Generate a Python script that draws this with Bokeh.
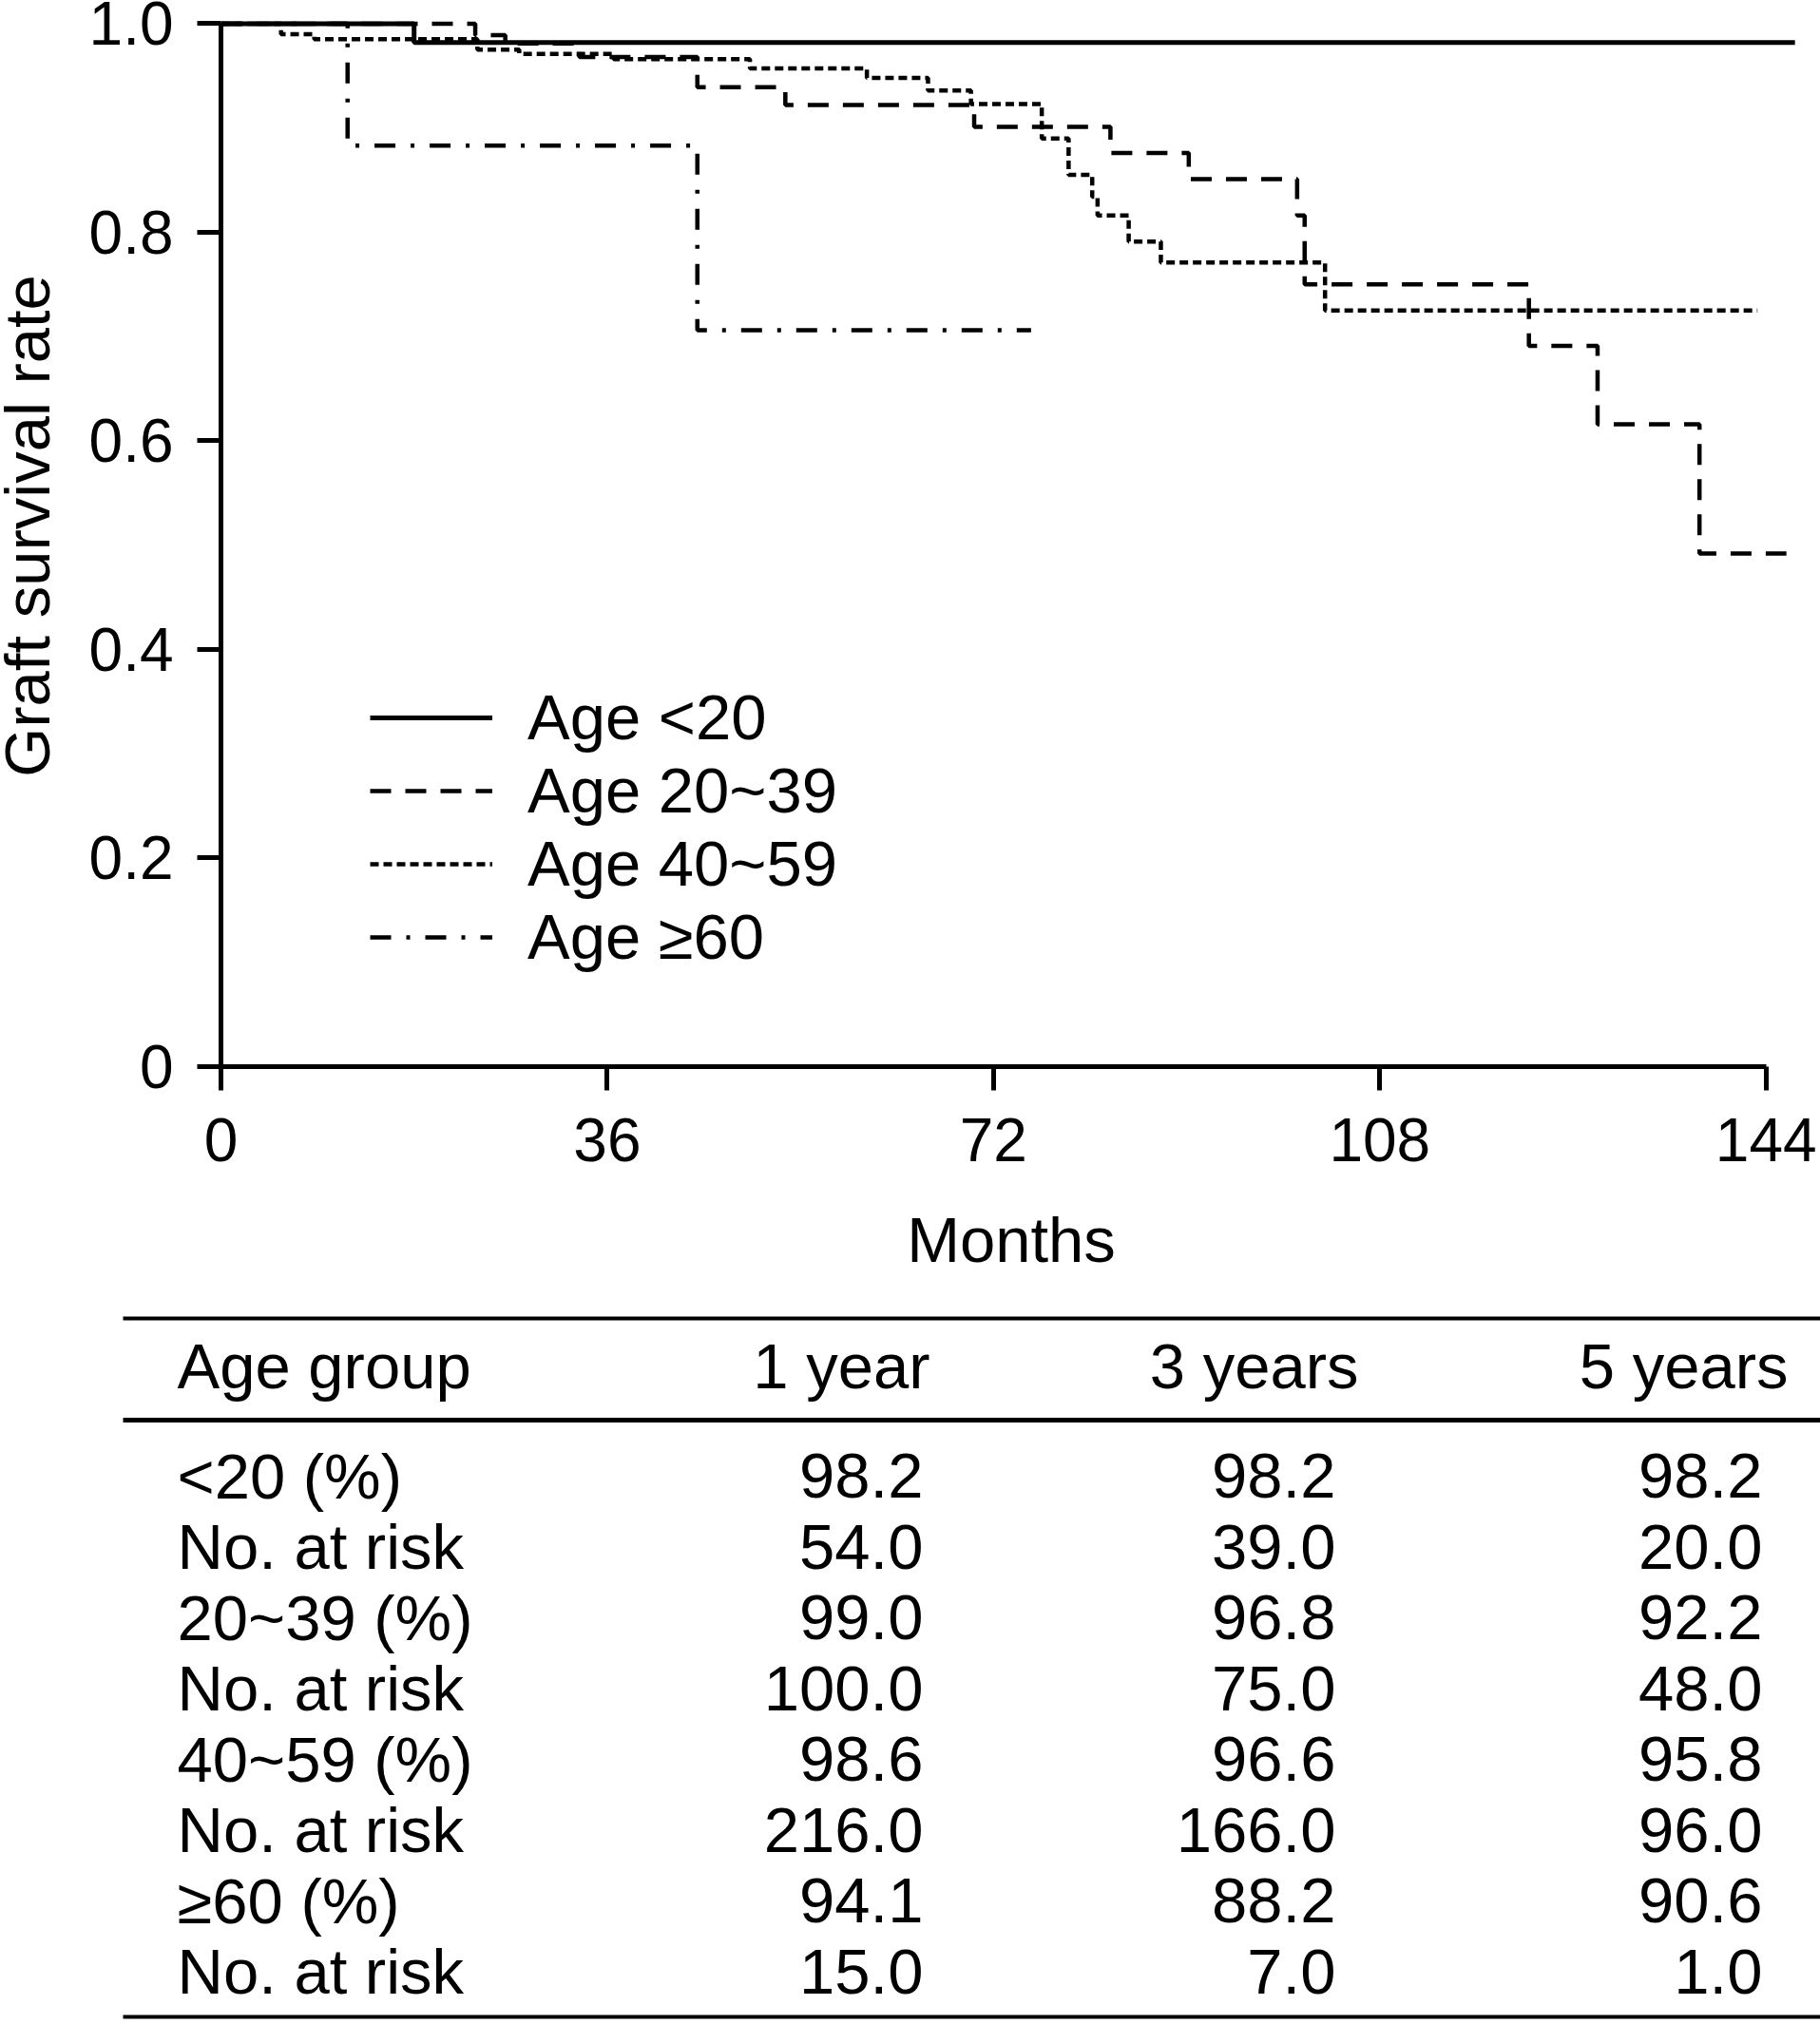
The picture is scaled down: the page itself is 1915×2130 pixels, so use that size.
import math
from bokeh.plotting import figure
from bokeh.models import Range1d, FixedTicker, Legend, LegendItem, CustomJSTickFormatter
from bokeh.layouts import column
from bokeh.embed import file_html
from bokeh.resources import INLINE
from bokeh.core.properties import value

FONT = "Liberation Sans"

# ---------------- data ----------------
x_ticks = [0, 36, 72, 108, 144]
y_ticks = [0, 0.2, 0.4, 0.6, 0.8, 1.0]
y_tick_labels = ["0", "0.2", "0.4", "0.6", "0.8", "1.0"]

x_title = "Months"
y_title = "Graft survival rate"
group_labels = ["Age <20", "Age 20~39", "Age 40~59", "Age \u226560"]

lt20_months = [0, 18.0, 146.7]
lt20_surv = [1.0, 0.982, 0.982]

a2039_months = [0, 23.7, 26.5, 33.4, 44.4, 52.6, 70.2, 82.9, 90.2, 100.3, 101.0,
                121.9, 128.3, 137.8, 145.9]
a2039_surv = [1.0, 0.989, 0.981, 0.968, 0.939, 0.922, 0.901, 0.876, 0.851, 0.816,
              0.750, 0.691, 0.616, 0.492, 0.492]

a4059_months = [0, 5.6, 8.7, 23.9, 27.8, 36.6, 49.3, 60.2, 65.9, 69.9, 76.5, 79.0,
                81.2, 81.7, 84.6, 87.6, 102.9, 143.2]
a4059_surv = [1.0, 0.990, 0.985, 0.975, 0.971, 0.966, 0.957, 0.948, 0.936, 0.923,
              0.890, 0.855, 0.834, 0.816, 0.791, 0.771, 0.725, 0.725]

ge60_months = [0, 11.8, 44.4, 75.5]
ge60_surv = [1.0, 0.883, 0.706, 0.706]

table_header = ["Age group", "1 year", "3 years", "5 years"]
row_labels = ["<20 (%)", "No. at risk", "20~39 (%)", "No. at risk",
              "40~59 (%)", "No. at risk", "\u226560 (%)", "No. at risk"]
year1 = [98.2, 54.0, 99.0, 100.0, 98.6, 216.0, 94.1, 15.0]
year3 = [98.2, 39.0, 96.8, 75.0, 96.6, 166.0, 88.2, 7.0]
year5 = [98.2, 20.0, 92.2, 48.0, 95.8, 96.0, 90.6, 1.0]

# ---------------- layout ----------------
W = 1915
H1 = 1370
H2 = 760
MBL, MBR, MBT, MBB = 232, 20, 8, 248
X144_PX = 1857.7          # canvas x of month 144
Y1_PX = 24.4              # canvas y of survival 1.0
frame_w = W - MBL - MBR
frame_h = H1 - MBT - MBB
px_per_month = (X144_PX - MBL) / 144
px_per_unit = (H1 - MBB - Y1_PX)
x_end = frame_w / px_per_month
y_end = frame_h / px_per_unit

p = figure(width=W, height=H1, x_range=Range1d(0, x_end), y_range=Range1d(0, y_end),
           output_backend="svg", toolbar_location=None,
           min_border_left=MBL, min_border_right=MBR,
           min_border_top=MBT, min_border_bottom=MBB)
p.outline_line_color = None
p.grid.visible = False
p.background_fill_color = "white"
p.border_fill_color = "white"

for ax in (p.xaxis[0], p.yaxis[0]):
    ax.axis_line_width = 5
    ax.axis_line_color = "black"
    ax.major_tick_line_width = 5
    ax.major_tick_line_color = "black"
    ax.major_tick_out = 25
    ax.major_tick_in = 0
    ax.minor_tick_out = 0
    ax.minor_tick_in = 0
    ax.major_label_text_font = FONT
    ax.major_label_text_font_size = "64px"
    ax.major_label_text_color = "black"
    ax.axis_label_text_font = FONT
    ax.axis_label_text_font_size = "67px"
    ax.axis_label_text_font_style = "normal"
    ax.axis_label_text_color = "black"

xa = p.xaxis[0]
xa.ticker = FixedTicker(ticks=x_ticks)
xa.bounds = (0, 144)
xa.major_label_standoff = 29
xa.axis_label = x_title
xa.axis_label_standoff = 42

ya = p.yaxis[0]
ya.ticker = FixedTicker(ticks=y_ticks)
ya.bounds = (0, 1)
ya.formatter = CustomJSTickFormatter(args=dict(yt=y_ticks, yl=y_tick_labels),
                                     code="const i = yt.indexOf(tick); return i >= 0 ? yl[i] : '';")
ya.major_label_standoff = 25

# y-axis title: rotated text left of the tick labels (drawn unclipped at overlay level)
YTITLE_X_PX = 28.0
YTITLE_Y_PX = 553.0
p.text(x=[(YTITLE_X_PX - MBL) / px_per_month], y=[(H1 - MBB - YTITLE_Y_PX) / px_per_unit],
       text=[y_title], angle=math.pi / 2, text_align="center", text_baseline="middle",
       text_font=value(FONT), text_font_size=value("67px"), text_color="black",
       level="overlay")

r_lt20 = p.step(lt20_months, lt20_surv, mode="after", line_color="black", line_width=5)
r_2039 = p.step(a2039_months, a2039_surv, mode="after", line_color="black", line_width=4.5,
                line_dash="22 15")
r_4059 = p.step(a4059_months, a4059_surv, mode="after", line_color="black", line_width=4.5,
                line_dash="9 5")
r_ge60 = p.step(ge60_months, ge60_surv, mode="after", line_color="black", line_width=4.5,
                line_dash="22 16 4 16")

legend = Legend(items=[LegendItem(label=lab, renderers=[r]) for lab, r in
                       zip(group_labels, [r_lt20, r_2039, r_4059, r_ge60])],
                location=(157, 98))
legend.padding = 0
legend.spacing = 0
legend.margin = 0
legend.border_line_color = None
legend.background_fill_alpha = 0
legend.glyph_width = 129
legend.glyph_height = 50
legend.label_height = 50
legend.label_standoff = 37
legend.label_text_font = FONT
legend.label_text_font_size = "67px"
legend.label_text_color = "black"
p.add_layout(legend)

# ---------------- table ----------------
# frame spans the same horizontal borders as the chart above, so data x == canvas px
t = figure(width=W, height=H2, x_range=Range1d(MBL, W - MBR), y_range=Range1d(H2, 0),
           output_backend="svg", toolbar_location=None,
           min_border_left=MBL, min_border_right=MBR, min_border_top=0, min_border_bottom=0,
           x_axis_location=None, y_axis_location=None)
t.grid.visible = False
t.outline_line_color = None
t.background_fill_color = "white"
t.border_fill_color = "white"

rule_y = [17, 124, 752]
t.segment(x0=[129] * 3, x1=[W] * 3, y0=rule_y, y1=rule_y, line_color="black",
          line_width=[4, 5, 4], level="overlay")

label_x = 186
col_right = [971, 1405, 1854]
head_right = [978, 1429, 1881]
head_mid = 67
row0_mid = 182.7
row_step = 74.5
TFS = value("67px")

t.text(x=[label_x] + head_right, y=[head_mid] * 4, text=table_header,
       text_align=["left", "right", "right", "right"], text_baseline="middle",
       text_font=value(FONT), text_font_size=TFS, text_color="black", level="overlay")

row_y = [row0_mid + row_step * i for i in range(len(row_labels))]
t.text(x=[label_x] * len(row_labels), y=row_y, text=row_labels,
       text_align="left", text_baseline="middle",
       text_font=value(FONT), text_font_size=TFS, text_color="black", level="overlay")
for cx, vals in zip(col_right, [year1, year3, year5]):
    t.text(x=[cx] * len(vals), y=row_y, text=[f"{v:.1f}" for v in vals],
           text_align="right", text_baseline="middle",
           text_font=value(FONT), text_font_size=TFS, text_color="black", level="overlay")

layout = column(p, t, spacing=0)
open("out.html", "w").write(file_html(layout, INLINE))
